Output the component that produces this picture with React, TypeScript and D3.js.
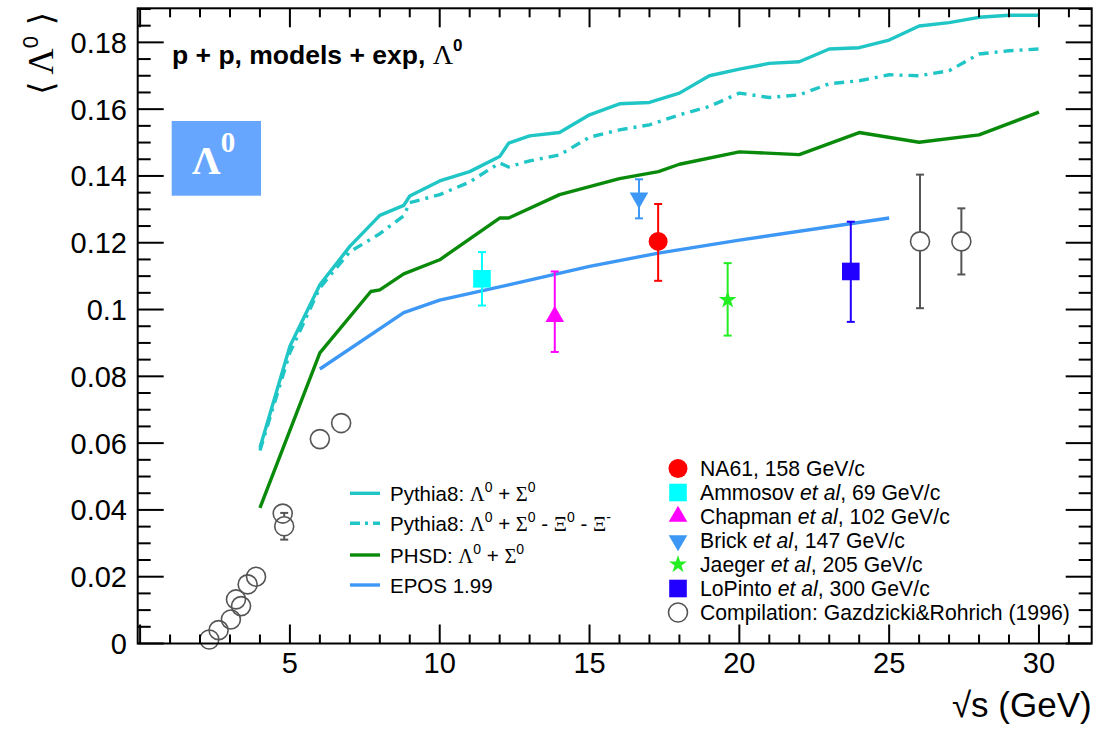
import React from "react";
import * as d3 from "d3";

// model curves
const pythiaSqrtS = [4, 5, 6, 7, 8, 8.8, 9, 10, 11, 12, 12.3, 13, 14, 15, 16, 17, 18, 19, 20, 21, 22, 23, 24, 25, 26, 27, 28, 29, 30];
const pythiaLamSig = [0.0586, 0.089, 0.1074, 0.1189, 0.1282, 0.1312, 0.134, 0.1385, 0.1413, 0.1458, 0.1498, 0.152, 0.153, 0.1583, 0.1616, 0.162, 0.1648, 0.17, 0.172, 0.1737, 0.1742, 0.178, 0.1784, 0.1807, 0.1849, 0.1859, 0.1875, 0.1881, 0.1881];
const pythiaNoXi = [0.0578, 0.0871, 0.1065, 0.1173, 0.1227, 0.1281, 0.132, 0.1344, 0.1382, 0.1439, 0.1427, 0.1445, 0.1463, 0.1516, 0.1538, 0.1553, 0.1583, 0.1608, 0.1648, 0.1635, 0.1643, 0.1676, 0.1685, 0.1703, 0.17, 0.1715, 0.1765, 0.1775, 0.178];

const phsdSqrtS = [4, 6, 7.7, 8, 8.8, 10, 12, 12.3, 14, 16, 17.3, 18, 20, 22, 24, 26, 28, 30];
const phsdVals = [0.0406, 0.087, 0.1054, 0.1059, 0.1107, 0.1149, 0.1274, 0.1274, 0.1344, 0.1392, 0.1413, 0.1435, 0.1472, 0.1464, 0.153, 0.1501, 0.1523, 0.1591];

const eposSqrtS = [6, 8.8, 10, 12.3, 15, 17.3, 20, 25];
const eposVals = [0.0822, 0.0991, 0.1028, 0.1074, 0.1129, 0.1169, 0.1208, 0.1274];

// experiments
const expNames = ["NA61", "Ammosov", "Chapman", "Brick", "Jaeger", "LoPinto"];
const expBeam = ["158", "69", "102", "147", "205", "300"];
const expSqrtS = [17.29, 11.41, 13.84, 16.65, 19.61, 23.72];
const expMean = [0.1204, 0.1092, 0.0979, 0.1334, 0.1029, 0.1114];
const expErrUp = [0.0112, 0.008, 0.0135, 0.0056, 0.011, 0.0149];
const expErrDown = [0.0118, 0.008, 0.0106, 0.0061, 0.0107, 0.0151];
const expMarker = ["circle", "square", "triUp", "triDown", "star", "square"];
const expColor = ["#ff0000", "#00ffff", "#ff00ff", "#3d97f5", "#22ee22", "#2200ff"];

// compilation Gazdzicki & Rohrich (1996)
const gazSqrtS = [2.31, 2.62, 3.03, 3.2, 3.37, 3.59, 3.87, 4.76, 4.81, 6.0, 6.71, 26.03, 27.41];
const gazMean = [0.0012, 0.004, 0.0072, 0.0132, 0.0112, 0.0177, 0.02, 0.0389, 0.0351, 0.0612, 0.066, 0.1204, 0.1204];
const gazErr = [0, 0, 0, 0, 0, 0, 0, 0, 0.004, 0, 0, 0.02, 0.0099];

const yTicks = [0, 0.02, 0.04, 0.06, 0.08, 0.1, 0.12, 0.14, 0.16, 0.18];
const xTicks = [5, 10, 15, 20, 25, 30];

const W = 1103, H = 733;
const L = 137.7, R = 1091.7, T = 8.3, B = 643.5;
const CYAN = "#20c5c5", GREEN = "#0a8a0a", BLUE = "#3d97f5";
const SANS = "'Liberation Sans', Arial, sans-serif";
const SERIF = "'Liberation Serif', 'Times New Roman', serif";

const x = d3.scaleLinear().domain([-0.08, 31.76]).range([L, R]);
const y = d3.scaleLinear().domain([0, 0.1902]).range([B, T]);

function Marker({ kind, cx, cy, color }: { kind: string; cx: number; cy: number; color: string }) {
  if (kind === "circle") return <circle cx={cx} cy={cy} r={9.5} fill={color} />;
  if (kind === "square") return <rect x={cx - 8.8} y={cy - 8.8} width={17.6} height={17.6} fill={color} />;
  if (kind === "open") return <circle cx={cx} cy={cy} r={9.5} fill="none" stroke="#555" strokeWidth={1.6} />;
  const sym = kind === "star" ? d3.symbolStar : d3.symbolTriangle;
  const size = kind === "star" ? 100 : 150;
  const path = d3.symbol().type(sym).size(size)() as string;
  const rot = kind === "triDown" ? 180 : 0;
  return <path d={path} transform={`translate(${cx},${cy}) rotate(${rot})`} fill={color} />;
}

function ErrBar({ cx, top, bot, color }: { cx: number; top: number; bot: number; color: string }) {
  return (
    <g stroke={color} strokeWidth={2}>
      <line x1={cx} x2={cx} y1={top} y2={bot} />
      <line x1={cx - 4} x2={cx + 4} y1={top} y2={top} />
      <line x1={cx - 4} x2={cx + 4} y1={bot} y2={bot} />
    </g>
  );
}

const sup = (t: string) => (
  <tspan fontFamily={SANS} fontSize={14} dy={-9}>{t}</tspan>
);

export default function App() {
  const line = d3.line<[number, number]>().x(d => x(d[0])).y(d => y(d[1]));
  const pyth = line(pythiaSqrtS.map((s, i) => [s, pythiaLamSig[i]]));
  const pythNoXi = line(pythiaSqrtS.map((s, i) => [s, pythiaNoXi[i]]));
  const phsd = line(phsdSqrtS.map((s, i) => [s, phsdVals[i]]));
  const epos = line(eposSqrtS.map((s, i) => [s, eposVals[i]]));

  const minorY = d3.range(0, 0.1902, 0.005);
  const minorX = d3.range(0, 32, 1);

  const legL = [
    { c: CYAN, dash: "", y: 493.3 },
    { c: CYAN, dash: "10,5,3,5", y: 523.3 },
    { c: GREEN, dash: "", y: 555 },
    { c: BLUE, dash: "", y: 585 },
  ];
  const legLText = [
    <>Pythia8: <tspan fontFamily={SERIF}>Λ</tspan>{sup("0")}<tspan dy={9}> + </tspan><tspan fontFamily={SERIF}>Σ</tspan>{sup("0")}</>,
    <>Pythia8: <tspan fontFamily={SERIF}>Λ</tspan>{sup("0")}<tspan dy={9}> + </tspan><tspan fontFamily={SERIF}>Σ</tspan>{sup("0")}<tspan dy={9}> - </tspan><tspan fontFamily={SERIF}>Ξ</tspan>{sup("0")}<tspan dy={9}> - </tspan><tspan fontFamily={SERIF}>Ξ</tspan>{sup("-")}</>,
    <>PHSD: <tspan fontFamily={SERIF}>Λ</tspan>{sup("0")}<tspan dy={9}> + </tspan><tspan fontFamily={SERIF}>Σ</tspan>{sup("0")}</>,
    <>EPOS 1.99</>,
  ];

  return (
    <svg width={W} height={H} style={{ display: "block", position: "absolute", left: 0, top: 0, background: "#fff" }}>
      <rect width={W} height={H} fill="#fff" />
      {/* curves */}
      <g fill="none" strokeWidth={3.4} strokeLinejoin="round">
        <path d={pyth!} stroke={CYAN} />
        <path d={pythNoXi!} stroke={CYAN} strokeDasharray="10,6,3,6" />
        <path d={phsd!} stroke={GREEN} />
        <path d={epos!} stroke={BLUE} />
      </g>

      {/* compilation */}
      {gazSqrtS.map((s, i) => {
        const cx = x(s), cy = y(gazMean[i]);
        return (
          <g key={"g" + i}>
            {gazErr[i] > 0 && (
              <g stroke="#555" strokeWidth={2}>
                <line x1={cx} x2={cx} y1={y(gazMean[i] + gazErr[i])} y2={cy - 9.5} />
                <line x1={cx} x2={cx} y1={cy + 9.5} y2={y(gazMean[i] - gazErr[i])} />
                <line x1={cx - 4} x2={cx + 4} y1={y(gazMean[i] + gazErr[i])} y2={y(gazMean[i] + gazErr[i])} />
                <line x1={cx - 4} x2={cx + 4} y1={y(gazMean[i] - gazErr[i])} y2={y(gazMean[i] - gazErr[i])} />
              </g>
            )}
            <Marker kind="open" cx={cx} cy={cy} color="#555" />
          </g>
        );
      })}

      {/* experiments */}
      {expSqrtS.map((s, i) => (
        <g key={"e" + i}>
          <ErrBar cx={x(s)} top={y(expMean[i] + expErrUp[i])} bot={y(expMean[i] - expErrDown[i])} color={expColor[i]} />
          <Marker kind={expMarker[i]} cx={x(s)} cy={y(expMean[i])} color={expColor[i]} />
        </g>
      ))}

      {/* frame and ticks */}
      <g stroke="#000" strokeWidth={2}>
        <rect x={L} y={T} width={R - L} height={B - T} fill="none" />
        {minorY.map((v, i) => {
          const len = Math.abs(v / 0.02 - Math.round(v / 0.02)) < 1e-6 ? 26 : 13;
          return (
            <g key={"yt" + i}>
              <line x1={L} x2={L + len} y1={y(v)} y2={y(v)} />
              <line x1={R} x2={R - len} y1={y(v)} y2={y(v)} />
            </g>
          );
        })}
        {minorX.map((v, i) => {
          const len = v % 5 === 0 ? 19 : 9;
          if (x(v) <= L + 1) return null;
          return (
            <g key={"xt" + i}>
              <line x1={x(v)} x2={x(v)} y1={B} y2={B - len} />
              <line x1={x(v)} x2={x(v)} y1={T} y2={T + len} />
            </g>
          );
        })}
      </g>

      {/* tick labels */}
      <g fontFamily={SANS} fontSize={29} fill="#000">
        {yTicks.map(v => (
          <text key={"yl" + v} x={127} y={y(v) + 10.5} textAnchor="end">{v === 0 ? "0" : d3.format("")(+v.toFixed(2))}</text>
        ))}
        {xTicks.map(v => (
          <text key={"xl" + v} x={x(v)} y={673} textAnchor="middle">{v}</text>
        ))}
      </g>

      {/* axis titles */}
      <text x={R} y={717} textAnchor="end" fontFamily={SANS} fontSize={35}>√s (GeV)</text>
      <text transform="translate(53,12) rotate(-90)" textAnchor="end" fontFamily={SANS} fontSize={36}>
        <tspan fontFamily="'DejaVu Sans', sans-serif" fontSize={34}>⟨</tspan>
        <tspan fontFamily={SERIF}> Λ</tspan>
        <tspan fontSize={22} dy={-15}>0</tspan>
        <tspan fontFamily="'DejaVu Sans', sans-serif" fontSize={34} dy={15}> ⟩</tspan>
      </text>

      {/* title */}
      <text x={172} y={64} fontFamily={SANS} fontWeight="bold" fontSize={26.5}>
        p + p, models + exp, <tspan fontFamily={SERIF} fontWeight="normal" fontSize={28}>Λ</tspan>
        <tspan fontSize={17} dy={-13}>0</tspan>
      </text>

      {/* Lambda box */}
      <rect x={171.7} y={121} width={89.3} height={74.7} fill="#66a6ff" />
      <text x={192} y={174} fill="#fff" fontFamily={SERIF} fontWeight="bold" fontSize={40}>
        Λ<tspan fontSize={29} dy={-22}>0</tspan>
      </text>

      {/* left legend */}
      {legL.map((d, i) => (
        <g key={"ll" + i}>
          <line x1={350} x2={380} y1={d.y} y2={d.y} stroke={d.c} strokeWidth={3.4} strokeDasharray={d.dash || undefined} />
          <text x={390} y={d.y + 7.5} fontFamily={SANS} fontSize={20.5}>{legLText[i]}</text>
        </g>
      ))}

      {/* right legend */}
      {expNames.map((n, i) => {
        const ly = 468.5 + i * 24;
        return (
          <g key={"lr" + i}>
            <Marker kind={expMarker[i]} cx={678} cy={ly} color={expColor[i]} />
            <text x={700} y={ly + 7.5} fontFamily={SANS} fontSize={21.2}>
              {i === 0 ? <>{n}, {expBeam[i]} GeV/c</> : <>{n} <tspan fontStyle="italic">et al</tspan>, {expBeam[i]} GeV/c</>}
            </text>
          </g>
        );
      })}
      <Marker kind="open" cx={678} cy={612.5} color="#555" />
      <text x={700} y={620} fontFamily={SANS} fontSize={21.2}>Compilation: Gazdzicki&amp;Rohrich (1996)</text>
    </svg>
  );
}
